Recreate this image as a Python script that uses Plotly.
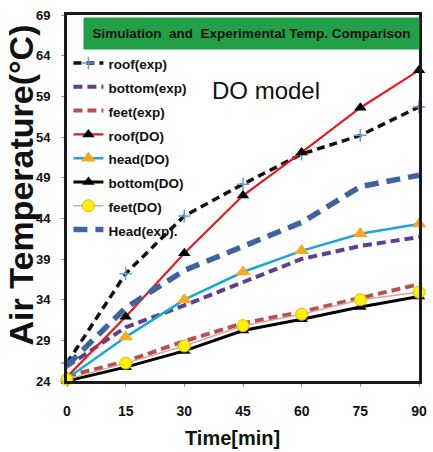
import plotly.graph_objects as go

# ---- data ----
time_min = [0, 15, 30, 45, 60, 75, 90]
roof_exp = [26.2, 37.2, 44.3, 48.2, 51.9, 54.2, 57.7]
bottom_exp = [25.8, 30.6, 33.3, 36.1, 39.0, 40.6, 41.7]
feet_exp = [24.6, 26.4, 28.9, 31.1, 32.5, 34.2, 35.9]
roof_do = [24.5, 31.9, 39.7, 46.8, 52.1, 57.6, 62.2]
head_do = [24.3, 29.4, 34.0, 37.4, 40.0, 42.1, 43.3]
bottom_do = [24.0, 25.7, 27.7, 30.2, 31.6, 33.1, 34.4]
feet_do = [24.2, 26.2, 28.3, 30.8, 32.2, 34.0, 34.9]
head_exp = [25.9, 33.0, 37.6, 40.6, 43.5, 47.9, 49.3]

x_ticks = [0, 15, 30, 45, 60, 75, 90]
y_ticks = [24, 29, 34, 39, 44, 49, 54, 59, 64, 69]

FONT = "Liberation Sans Narrow, Liberation Sans, Arial"


def nm(s):
    return '<span style="font-size:13.5px"><b>' + s + "</b></span>"


fig = go.Figure()

fig.add_trace(go.Scatter(
    x=time_min, y=roof_exp, name=nm("roof(exp)"), mode="lines+markers",
    line=dict(color="#111111", width=3.5, dash="8px,5px"),
    marker=dict(symbol="cross-thin", size=9, line=dict(color="#6A9BD8", width=1.5)),
    cliponaxis=False))
fig.add_trace(go.Scatter(
    x=time_min, y=bottom_exp, name=nm("bottom(exp)"), mode="lines",
    line=dict(color="#5A4090", width=4, dash="9px,5px"), cliponaxis=False))
fig.add_trace(go.Scatter(
    x=time_min, y=feet_exp, name=nm("feet(exp)"), mode="lines",
    line=dict(color="#B8504F", width=4, dash="9px,5px"), cliponaxis=False))
fig.add_trace(go.Scatter(
    x=time_min, y=roof_do, name=nm("roof(DO)"), mode="lines+markers",
    line=dict(color="#E6191E", width=2.2),
    marker=dict(symbol="triangle-up", size=11, color="#000000"),
    cliponaxis=False))
fig.add_trace(go.Scatter(
    x=time_min, y=head_do, name=nm("head(DO)"), mode="lines+markers",
    line=dict(color="#1DA6DE", width=2.5),
    marker=dict(symbol="triangle-up", size=13, color="#F7A81B"),
    cliponaxis=False))
fig.add_trace(go.Scatter(
    x=time_min, y=bottom_do, name=nm("bottom(DO)"), mode="lines+markers",
    line=dict(color="#000000", width=3),
    marker=dict(symbol="triangle-up", size=11, color="#000000"),
    cliponaxis=False))
fig.add_trace(go.Scatter(
    x=time_min, y=feet_do, name=nm("feet(DO)"), mode="lines+markers",
    line=dict(color="#D9A6A3", width=1.5),
    marker=dict(symbol="circle", size=12, color="#FFF200",
                line=dict(color="#E8B400", width=1)),
    cliponaxis=False))
fig.add_trace(go.Scatter(
    x=time_min, y=head_exp, name=nm("Head(exp)."), mode="lines",
    line=dict(color="#3D63A0", width=5.5, dash="14px,8px"), cliponaxis=False))

fig.update_layout(
    width=433, height=452,
    margin=dict(l=67, r=6, t=15, b=71),
    paper_bgcolor="white", plot_bgcolor="white",
    font=dict(family=FONT, color="#111111"),
    showlegend=True,
    legend=dict(x=0.004, y=0.915, xanchor="left", yanchor="top",
                bgcolor="rgba(0,0,0,0)", font=dict(size=16, family=FONT, color="#111111"),
                itemwidth=30, tracegroupgap=0),
    xaxis=dict(range=[0, 90], tickvals=x_ticks, ticktext=[str(v) for v in x_ticks],
               showgrid=False, zeroline=False, showline=True, mirror=True,
               linecolor="#1a1a1a", linewidth=3, ticks="outside", ticklen=3,
               tickcolor="#999999", ticklabelstandoff=12,
               tickfont=dict(size=14, family=FONT, color="#111111", weight="bold")),
    yaxis=dict(range=[24, 69], tickvals=y_ticks, ticktext=[str(v) for v in y_ticks],
               showgrid=False, zeroline=False, showline=True, mirror=True,
               linecolor="#1a1a1a", linewidth=3, ticks="outside", ticklen=3,
               tickcolor="#999999", ticklabelstandoff=8,
               tickfont=dict(size=13, family=FONT, color="#111111", weight="bold")),
    annotations=[
        dict(text="<b>Simulation  and  Experimental Temp. Comparison</b>",
             xref="paper", yref="paper", x=0.524, y=0.995, xanchor="center", yanchor="top",
             showarrow=False, bgcolor="#22A046", font=dict(size=13.5, family=FONT, color="#111111"),
             width=331, height=27, borderpad=2),
        dict(text="DO model", xref="paper", yref="paper", x=0.565, y=0.794,
             xanchor="center", yanchor="middle", showarrow=False,
             font=dict(size=24, family=FONT, color="#111111")),
        dict(text="<b>Air Temperature(°C)</b>", xref="paper", yref="paper",
             x=-0.13, y=0.535, xanchor="center", yanchor="middle", textangle=-90,
             showarrow=False, font=dict(size=34, family="Liberation Sans, Arial", color="#111111")),
        dict(text="<b>Time[min]</b>", xref="paper", yref="paper",
             x=0.47, y=-0.155, xanchor="center", yanchor="middle",
             showarrow=False, font=dict(size=20, family="Liberation Sans, Arial", color="#111111")),
    ],
)

fig.write_html("out.html", config={"displayModeBar": False},
               post_script="document.body.style.margin='0';document.body.style.overflow='hidden';")
